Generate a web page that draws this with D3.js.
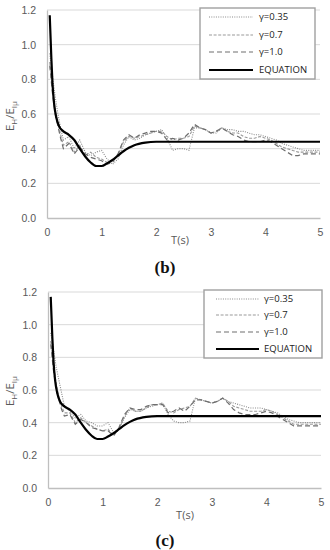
<!DOCTYPE html>
<html>
<head>
<meta charset="utf-8">
<script src="https://cdn.jsdelivr.net/npm/d3@7"></script>
<style>
body { margin: 0; background: #fff; }
svg { display: block; font-family: 'Open Sans', sans-serif; }
.tick-label { fill: #595959; font-size: 10.5px; }
.legend-label { fill: #222; font-size: 9.5px; }
.panel-tag { font-family: 'Liberation Serif', serif; font-weight: bold; font-size: 17px; fill: #111; }
</style>
</head>
<body>
<svg id="chart" width="330" height="550"></svg>
<script>
// shared period grid for the recorded series
const PERIODS = [0.05, 0.1, 0.15, 0.2, 0.25, 0.3, 0.4, 0.5, 0.6, 0.7, 0.8, 0.9, 1.0,
	1.1, 1.2, 1.3, 1.4, 1.5, 1.6, 1.7, 1.8, 1.9, 2.0, 2.1, 2.2, 2.3, 2.4, 2.5, 2.6,
	2.7, 2.8, 2.9, 3.0, 3.1, 3.2, 3.3, 3.4, 3.5, 3.6, 3.7, 3.8, 3.9, 4.0, 4.1, 4.2,
	4.3, 4.4, 4.5, 4.6, 4.7, 4.8, 4.9, 5.0];

const EQ_PERIODS = [0.05, 0.08, 0.1, 0.13, 0.17, 0.22, 0.3, 0.4, 0.5, 0.6, 0.7, 0.8,
	0.9, 1.0, 1.1, 1.2, 1.3, 1.4, 1.5, 1.6, 1.8, 2.0, 2.3, 2.6, 3.0, 4.0, 5.0];
const EQ_VALUES = [1.17, 0.92, 0.78, 0.66, 0.58, 0.53, 0.50, 0.48, 0.45, 0.40, 0.355,
	0.32, 0.30, 0.30, 0.315, 0.335, 0.36, 0.385, 0.405, 0.42, 0.435, 0.44, 0.44, 0.44,
	0.44, 0.44, 0.44];

// panel (b)
const B_G035 = [0.95, 0.82, 0.70, 0.60, 0.52, 0.45, 0.47, 0.40, 0.45, 0.38, 0.36, 0.38,
	0.39, 0.34, 0.31, 0.34, 0.42, 0.47, 0.45, 0.46, 0.48, 0.49, 0.50, 0.51, 0.46, 0.39,
	0.40, 0.40, 0.39, 0.52, 0.52, 0.51, 0.49, 0.49, 0.52, 0.51, 0.51, 0.50, 0.50, 0.49,
	0.48, 0.48, 0.47, 0.46, 0.45, 0.43, 0.42, 0.41, 0.40, 0.39, 0.39, 0.39, 0.39];
const B_G07 = [0.90, 0.75, 0.62, 0.55, 0.48, 0.42, 0.44, 0.38, 0.42, 0.36, 0.38, 0.35,
	0.34, 0.32, 0.33, 0.36, 0.44, 0.47, 0.46, 0.47, 0.48, 0.49, 0.50, 0.50, 0.47, 0.45,
	0.46, 0.46, 0.47, 0.53, 0.52, 0.51, 0.49, 0.50, 0.52, 0.50, 0.49, 0.49, 0.47, 0.46,
	0.46, 0.47, 0.46, 0.45, 0.43, 0.41, 0.40, 0.39, 0.38, 0.38, 0.38, 0.38, 0.38];
const B_G10 = [0.88, 0.72, 0.60, 0.53, 0.46, 0.40, 0.43, 0.37, 0.41, 0.37, 0.35, 0.34,
	0.33, 0.31, 0.32, 0.37, 0.45, 0.48, 0.46, 0.48, 0.49, 0.50, 0.50, 0.49, 0.45, 0.46,
	0.45, 0.46, 0.49, 0.54, 0.52, 0.51, 0.49, 0.50, 0.52, 0.50, 0.48, 0.47, 0.45, 0.44,
	0.44, 0.44, 0.45, 0.44, 0.42, 0.40, 0.38, 0.36, 0.36, 0.37, 0.37, 0.37, 0.37];

// panel (c)
const C_G035 = [0.95, 0.85, 0.74, 0.66, 0.58, 0.50, 0.47, 0.43, 0.45, 0.41, 0.40, 0.38,
	0.38, 0.40, 0.34, 0.36, 0.43, 0.48, 0.47, 0.47, 0.49, 0.50, 0.51, 0.52, 0.45, 0.41,
	0.40, 0.40, 0.41, 0.55, 0.54, 0.53, 0.52, 0.53, 0.55, 0.53, 0.52, 0.51, 0.50, 0.49,
	0.49, 0.49, 0.48, 0.47, 0.46, 0.44, 0.42, 0.41, 0.40, 0.40, 0.40, 0.40, 0.40];
const C_G07 = [0.90, 0.76, 0.64, 0.56, 0.50, 0.46, 0.46, 0.40, 0.43, 0.40, 0.38, 0.36,
	0.35, 0.36, 0.32, 0.36, 0.44, 0.49, 0.47, 0.47, 0.49, 0.51, 0.51, 0.52, 0.47, 0.46,
	0.48, 0.49, 0.50, 0.55, 0.54, 0.53, 0.52, 0.53, 0.55, 0.53, 0.50, 0.49, 0.48, 0.47,
	0.47, 0.47, 0.48, 0.47, 0.45, 0.43, 0.41, 0.39, 0.39, 0.39, 0.39, 0.39, 0.39];
const C_G10 = [0.88, 0.72, 0.61, 0.54, 0.48, 0.44, 0.45, 0.39, 0.42, 0.40, 0.37, 0.36,
	0.35, 0.35, 0.32, 0.37, 0.45, 0.49, 0.48, 0.48, 0.50, 0.51, 0.51, 0.51, 0.46, 0.47,
	0.49, 0.47, 0.50, 0.54, 0.54, 0.53, 0.52, 0.53, 0.55, 0.52, 0.48, 0.46, 0.45, 0.45,
	0.45, 0.46, 0.47, 0.46, 0.44, 0.42, 0.40, 0.38, 0.38, 0.38, 0.38, 0.38, 0.38];

const SERIES_NAMES = ['\u03b3=0.35', '\u03b3=0.7', '\u03b3=1.0', 'EQUATION'];
const Y_TICKS = [0, 0.2, 0.4, 0.6, 0.8, 1.0, 1.2];
const X_TICKS = [0, 1, 2, 3, 4, 5];

const STYLES = [
	{ stroke: '#8a8a8a', width: 1.1, dash: '1,1.3' },
	{ stroke: '#9a9a9a', width: 1.1, dash: '3,1.6' },
	{ stroke: '#6e6e6e', width: 1.2, dash: '5,3' },
	{ stroke: '#000', width: 2.2, dash: null }
];

const $svg = d3.select('#chart');

function drawPanel(p) {
	const x = d3.scaleLinear().domain([0, 5]).range([p.left, p.right]);
	const y = d3.scaleLinear().domain([0, 1.2]).range([p.bottom, p.top]);
	const $g = $svg.append('g');

	// gridlines
	$g.selectAll('line.grid')
		.data(Y_TICKS.filter(d => d > 0))
		.enter()
		.append('line')
		.attr('x1', p.left).attr('x2', p.right)
		.attr('y1', d => y(d)).attr('y2', d => y(d))
		.attr('stroke', '#d9d9d9').attr('stroke-width', 1);

	// axes
	const $xAxis = $g.append('g')
		.attr('transform', `translate(0,${p.bottom})`)
		.call(d3.axisBottom(x).tickValues(X_TICKS).tickSize(0).tickPadding(p.xPad).tickFormat(d3.format('d')));
	$xAxis.select('.domain').attr('stroke', '#bfbfbf').attr('stroke-width', 1.3);
	$xAxis.selectAll('text').attr('class', 'tick-label').attr('font-family', null).attr('font-size', null);

	const $yAxis = $g.append('g')
		.attr('transform', `translate(${p.left},0)`)
		.call(d3.axisLeft(y).tickValues(Y_TICKS).tickSize(0).tickPadding(11).tickFormat(d3.format('.1f')));
	$yAxis.select('.domain').attr('stroke', '#bfbfbf').attr('stroke-width', 1.3);
	$yAxis.selectAll('text').attr('class', 'tick-label').attr('font-family', null).attr('font-size', null);

	// series
	const line = d3.line().x(d => x(d[0])).y(d => y(d[1]));
	const smooth = d3.line().curve(d3.curveMonotoneX).x(d => x(d[0])).y(d => y(d[1]));
	p.series.forEach((vals, i) => {
		const s = STYLES[i];
		$g.append('path')
			.datum(PERIODS.map((t, j) => [t, vals[j]]))
			.attr('d', line)
			.attr('fill', 'none')
			.attr('stroke', s.stroke)
			.attr('stroke-width', s.width)
			.attr('stroke-dasharray', s.dash);
	});
	$g.append('path')
		.datum(EQ_PERIODS.map((t, j) => [t, EQ_VALUES[j]]))
		.attr('d', smooth)
		.attr('fill', 'none')
		.attr('stroke', STYLES[3].stroke)
		.attr('stroke-width', STYLES[3].width);

	// axis titles
	$g.append('text')
		.attr('class', 'tick-label')
		.attr('x', p.tx).attr('y', p.ty)
		.attr('text-anchor', 'middle')
		.style('font-size', '11px')
		.text('T(s)');

	const $yt = $g.append('text')
		.attr('class', 'tick-label')
		.attr('transform', `translate(${p.yx},${p.yy}) rotate(-90)`)
		.attr('text-anchor', 'middle')
		.style('font-size', '11.5px');
	$yt.append('tspan').text('E');
	$yt.append('tspan').attr('dy', 3).style('font-size', '8px').text('H');
	$yt.append('tspan').attr('dy', -3).text('/E');
	$yt.append('tspan').attr('dy', 3).style('font-size', '8px').text('I\u03bc');

	// legend
	const lg = p.legend;
	$g.append('rect')
		.attr('x', lg.x).attr('y', lg.y)
		.attr('width', lg.w).attr('height', lg.h)
		.attr('fill', '#fff')
		.attr('stroke', '#a0a0a0').attr('stroke-width', 1.4);
	SERIES_NAMES.forEach((name, i) => {
		const s = STYLES[i];
		const ly = lg.rows[i];
		$g.append('line')
			.attr('x1', lg.sx1).attr('x2', lg.sx2)
			.attr('y1', ly).attr('y2', ly)
			.attr('stroke', s.stroke)
			.attr('stroke-width', s.width)
			.attr('stroke-dasharray', s.dash);
		$g.append('text')
			.attr('class', 'legend-label')
			.attr('x', lg.tx).attr('y', ly)
			.attr('dy', '0.35em')
			.text(name);
	});

	$svg.append('text')
		.attr('class', 'panel-tag')
		.attr('x', p.tagX).attr('y', p.tagY)
		.attr('text-anchor', 'middle')
		.text(p.tag);
}

drawPanel({
	left: 47, right: 320, top: 10, bottom: 218, xPad: 11,
	series: [B_G035, B_G07, B_G10],
	tx: 180, ty: 244, yx: 14, yy: 116,
	legend: { x: 200, y: 8, w: 115, h: 71, rows: [17, 35, 52, 70], sx1: 209, sx2: 253, tx: 259 },
	tag: '(b)', tagX: 165, tagY: 273
});

drawPanel({
	left: 48, right: 321, top: 292, bottom: 488, xPad: 11,
	series: [C_G035, C_G07, C_G10],
	tx: 185, ty: 519, yx: 14, yy: 391,
	legend: { x: 204, y: 290, w: 118, h: 68, rows: [299, 315, 332, 349], sx1: 216, sx2: 259, tx: 264 },
	tag: '(c)', tagX: 165, tagY: 546
});
</script>
</body>
</html>
